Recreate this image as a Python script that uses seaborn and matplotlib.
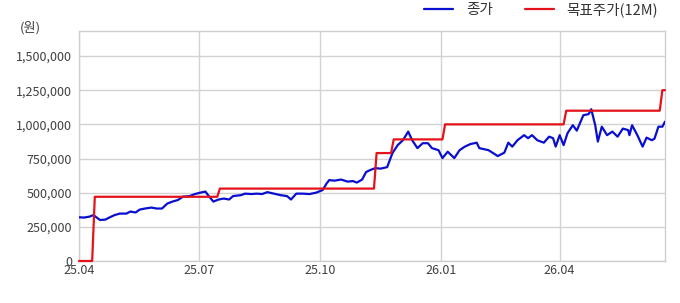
import matplotlib
matplotlib.use("Agg")
import matplotlib.pyplot as plt
import seaborn as sns
import pandas as pd

# ---- data ----
close_dates = [
    "2025-04-01","2025-04-05","2025-04-09","2025-04-12","2025-04-15","2025-04-17","2025-04-21","2025-04-24","2025-04-28","2025-05-02",
    "2025-05-07","2025-05-10","2025-05-14","2025-05-17","2025-05-21","2025-05-26","2025-05-30","2025-06-03","2025-06-07","2025-06-11",
    "2025-06-15","2025-06-19","2025-06-24","2025-06-28","2025-07-02","2025-07-06","2025-07-08","2025-07-12","2025-07-16","2025-07-20",
    "2025-07-24","2025-07-27","2025-08-02","2025-08-05","2025-08-10","2025-08-14","2025-08-18","2025-08-22","2025-08-27","2025-09-01",
    "2025-09-06","2025-09-09","2025-09-13","2025-09-18","2025-09-23","2025-09-28","2025-10-03","2025-10-06","2025-10-08","2025-10-12",
    "2025-10-17","2025-10-22","2025-10-26","2025-10-29","2025-11-02","2025-11-05","2025-11-08","2025-11-12","2025-11-16","2025-11-21",
    "2025-11-25","2025-11-29","2025-12-03","2025-12-07","2025-12-10","2025-12-14","2025-12-18","2025-12-22","2025-12-25","2025-12-30",
    "2026-01-02","2026-01-06","2026-01-11","2026-01-15","2026-01-19","2026-01-23","2026-01-28","2026-01-30","2026-02-06","2026-02-13",
    "2026-02-18","2026-02-21","2026-02-24","2026-02-28","2026-03-05","2026-03-08","2026-03-11","2026-03-15","2026-03-20","2026-03-24",
    "2026-03-27","2026-03-29","2026-04-01","2026-04-04","2026-04-07","2026-04-11","2026-04-14","2026-04-19","2026-04-23","2026-04-25",
    "2026-04-28","2026-04-30","2026-05-03","2026-05-07","2026-05-11","2026-05-15","2026-05-19","2026-05-23","2026-05-24","2026-05-26",
    "2026-05-30","2026-06-03","2026-06-06","2026-06-10","2026-06-12","2026-06-15","2026-06-18","2026-06-20",
]
close_values = [
    320000, 318000, 325000, 336000, 314000, 300000, 303000, 318000, 336000, 347000,
    347000, 362000, 355000, 376000, 384000, 391000, 384000, 384000, 420000, 435000,
    446000, 471000, 475000, 490000, 500000, 508000, 482000, 435000, 450000, 457000,
    450000, 475000, 482000, 493000, 490000, 493000, 490000, 504000, 493000, 482000,
    475000, 450000, 493000, 493000, 490000, 500000, 519000, 567000, 592000, 588000,
    596000, 581000, 585000, 574000, 596000, 651000, 665000, 680000, 676000, 687000,
    789000, 848000, 884000, 947000, 884000, 826000, 862000, 862000, 826000, 811000,
    753000, 800000, 753000, 811000, 837000, 855000, 866000, 826000, 811000, 768000,
    793000, 866000, 837000, 884000, 921000, 899000, 921000, 884000, 866000, 910000,
    899000, 837000, 921000, 848000, 936000, 994000, 954000, 1067000, 1075000, 1111000,
    994000, 874000, 983000, 921000, 947000, 910000, 969000, 958000, 921000, 994000,
    921000, 837000, 903000, 884000, 895000, 983000, 983000, 1020000,
]
target_dates = [
    "2025-04-01", "2025-04-11", "2025-04-13", "2025-07-15", "2025-07-17",
    "2025-11-11", "2025-11-13", "2025-11-24", "2025-11-26", "2026-01-02",
    "2026-01-04", "2026-04-04", "2026-04-06", "2026-06-16", "2026-06-18", "2026-06-20",
]
target_values = [
    0, 0, 470000, 470000, 530000,
    530000, 790000, 790000, 890000, 890000,
    1000000, 1000000, 1100000, 1100000, 1250000, 1250000,
]
series_names = ["종가", "목표주가(12M)"]
xtick_dates = ["2025-04-01", "2025-07-01", "2025-10-01", "2026-01-01", "2026-04-01"]
xtick_labels = ["25.04", "25.07", "25.10", "26.01", "26.04"]
ytick_values = [0, 250000, 500000, 750000, 1000000, 1250000, 1500000]

# ---- style ----
sns.set_theme(style="white")
plt.rcParams['font.family'] = ['Noto Sans CJK KR', 'DejaVu Sans']

close_df = pd.DataFrame({"date": pd.to_datetime(close_dates), "value": close_values})
target_df = pd.DataFrame({"date": pd.to_datetime(target_dates), "value": target_values})

fig = plt.figure(figsize=(6.8, 3.03), dpi=100)
ax = fig.add_axes([79 / 680, 1 - 261 / 303, (665 - 79) / 680, (261 - 30.5) / 303])

sns.lineplot(data=close_df, x="date", y="value", ax=ax, color="#0a0fcf",
             linewidth=1.6, label=series_names[0], zorder=3)
sns.lineplot(data=target_df, x="date", y="value", ax=ax, color="#e3121b",
             linewidth=1.6, label=series_names[1], zorder=4, clip_on=False)

ax.set_xlim(pd.Timestamp(close_dates[0]), pd.Timestamp(close_dates[-1]))
ax.set_ylim(0, 1687000)
ax.set_xticks(pd.to_datetime(xtick_dates))
ax.set_xticklabels(xtick_labels)
ax.set_yticks(ytick_values)
ax.set_yticklabels([f"{v:,}" for v in ytick_values])
ax.set_xlabel("")
ax.set_ylabel("")

ax.grid(True, color="#d2d2d2", linewidth=1.0)
ax.set_axisbelow(True)
for s in ax.spines.values():
    s.set_color("#cfcfcf")
    s.set_linewidth(1.0)
ax.tick_params(axis="both", length=0, labelsize=9, colors="#404040")
ax.tick_params(axis="y", pad=5)
ax.tick_params(axis="x", pad=2)

fig.text(20 / 680, 1 - 28 / 303, "(원)", fontsize=9.5, color="#404040", va="center", ha="left")

ax.legend(loc="center right", bbox_to_anchor=(671 / 680, 1 - 10 / 303),
          bbox_transform=fig.transFigure, ncol=2, frameon=False, fontsize=10.5,
          handlelength=2.0, handletextpad=0.85, columnspacing=2.2,
          labelcolor="#333333")

fig.savefig("out.png", dpi=100)
